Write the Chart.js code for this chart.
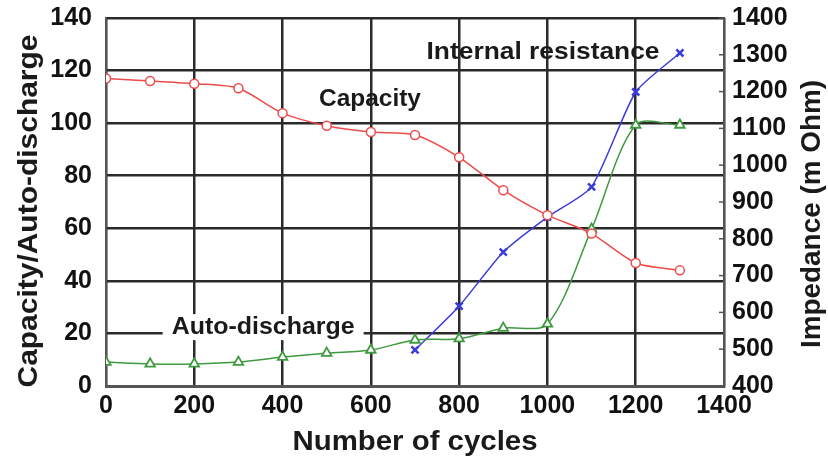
<!DOCTYPE html>
<html>
<head>
<meta charset="utf-8">
<script src="https://cdn.jsdelivr.net/npm/chart.js@4"></script>
<style>
  body { margin: 0; background: #fff; }
  #wrap { width: 828px; height: 463px; }
</style>
</head>
<body>
<div id="wrap"><canvas id="myChart"></canvas></div>
<script>
const cycles = [0, 100, 200, 300, 400, 500, 600, 700, 800, 900, 1000, 1100, 1200, 1300];
const capacity = [117, 116, 115, 113.3, 103.8, 99, 96.6, 95.5, 87, 74.5, 65, 58, 46.8, 44];
const autoDischarge = [9.1, 8.4, 8.4, 9.1, 11, 12.5, 13.7, 17.5, 18, 22, 23.6, 59.7, 99.3, 99.3];
const resistanceCycles = [700, 800, 900, 1000, 1100, 1200, 1300];
const resistance = [498, 617, 764, 859, 941, 1199, 1305];

const pts = (xs, ys) => xs.map((x, i) => ({ x: x, y: ys[i] }));

const FONT = '"Liberation Sans", Arial, sans-serif';

// draw a text stretched to a given length, rotated by angle
function stretchText(c, text, x, y, angle, len) {
  c.save();
  c.translate(x, y);
  c.rotate(angle);
  const w = c.measureText(text).width;
  if (len) c.scale(len / w, 1);
  c.fillText(text, 0, 0);
  c.restore();
}

// labels inside the plot, axis titles and the small ticks of the right axis
const extras = {
  id: 'extras',
  afterDatasetsDraw(chart) {
    const c = chart.ctx, xs = chart.scales.x, yl = chart.scales.y, yr = chart.scales.y1;
    const area = chart.chartArea;
    c.save();
    c.fillStyle = '#1a1a1a';
    c.textAlign = 'center';
    c.textBaseline = 'middle';
    c.font = 'bold 24px ' + FONT;
    const put = (text, x, y, len, bg) => {
      const px = xs.getPixelForValue(x), py = yl.getPixelForValue(y);
      if (bg) {
        c.fillStyle = '#fff';
        c.fillRect(px - len / 2 - 9, py - 13, len + 18, 26);
        c.fillStyle = '#1a1a1a';
      }
      stretchText(c, text, px, py, 0, len);
    };
    put('Capacity', 598, 109, 102, false);
    put('Internal resistance', 990, 127, 233, false);
    put('Auto-discharge', 356, 22.4, 183, true);

    // right axis inward ticks
    c.strokeStyle = '#555';
    c.lineWidth = 1.5;
    yr.ticks.forEach(t => {
      const py = yr.getPixelForValue(t.value);
      c.beginPath();
      c.moveTo(area.right - 5, py);
      c.lineTo(area.right, py);
      c.stroke();
    });

    // axis titles
    c.textBaseline = 'alphabetic';
    c.font = 'bold 27px ' + FONT;
    stretchText(c, 'Capacity/Auto-discharge', 37, 211, -Math.PI / 2, 353);
    c.font = 'bold 28px ' + FONT;
    stretchText(c, 'Impedance (m Ohm)', 820, 214, -Math.PI / 2, 268);
    stretchText(c, 'Number of cycles', (area.left + area.right) / 2, 450, 0, 245);
    c.restore();
  }
};

const tickFont = { family: FONT, size: 25, weight: 'bold' };
const fixV = w => s => { s.width = w; s.paddingTop = 0; s.paddingBottom = 0; };

new Chart(document.getElementById('myChart'), {
  type: 'line',
  data: {
    datasets: [
      {
        label: 'Capacity',
        data: pts(cycles, capacity),
        yAxisID: 'y',
        borderColor: '#ee4b4b',
        backgroundColor: '#fff',
        borderWidth: 1.5,
        pointStyle: 'circle',
        pointRadius: 4.5,
        pointBorderWidth: 1.5,
        tension: 0.25
      },
      {
        label: 'Auto-discharge',
        data: pts(cycles, autoDischarge),
        yAxisID: 'y',
        borderColor: '#3f9a3f',
        backgroundColor: '#fff',
        borderWidth: 1.5,
        pointStyle: 'triangle',
        pointRadius: 5.5,
        pointBorderWidth: 1.8,
        tension: 0.3
      },
      {
        label: 'Internal resistance',
        data: pts(resistanceCycles, resistance),
        yAxisID: 'y1',
        borderColor: '#3b3bdc',
        backgroundColor: '#3b3bdc',
        borderWidth: 1.5,
        pointStyle: 'crossRot',
        pointRadius: 5,
        pointBorderWidth: 2.5,
        tension: 0.2
      }
    ]
  },
  plugins: [extras],
  options: {
    responsive: true,
    maintainAspectRatio: false,
    animation: false,
    layout: { padding: { top: 18, right: 0, left: 0, bottom: 0 } },
    plugins: {
      legend: { display: false },
      tooltip: { enabled: false }
    },
    scales: {
      x: {
        type: 'linear',
        min: 0, max: 1400,
        afterFit: s => { s.height = 77; s.paddingLeft = 0; s.paddingRight = 0; },
        ticks: { stepSize: 200, color: '#111', font: tickFont, padding: 5, maxRotation: 0,
                 autoSkip: false, callback: v => String(v) },
        grid: { color: '#2a2a2a', lineWidth: 2.5, drawTicks: false },
        border: { color: '#555', width: 3 }
      },
      y: {
        position: 'left',
        min: 0, max: 140,
        afterFit: fixV(106),
        ticks: { stepSize: 20, color: '#111', font: tickFont, padding: 14,
                 autoSkip: false, callback: v => String(v) },
        grid: { color: '#2a2a2a', lineWidth: 2.5, drawTicks: false },
        border: { color: '#555', width: 2 }
      },
      y1: {
        position: 'right',
        min: 400, max: 1400,
        afterFit: fixV(104),
        ticks: { stepSize: 100, color: '#111', font: tickFont, padding: 8,
                 autoSkip: false, callback: v => String(v) },
        grid: { drawOnChartArea: false, drawTicks: false },
        border: { color: '#555', width: 2 }
      }
    }
  }
});
</script>
</body>
</html>
